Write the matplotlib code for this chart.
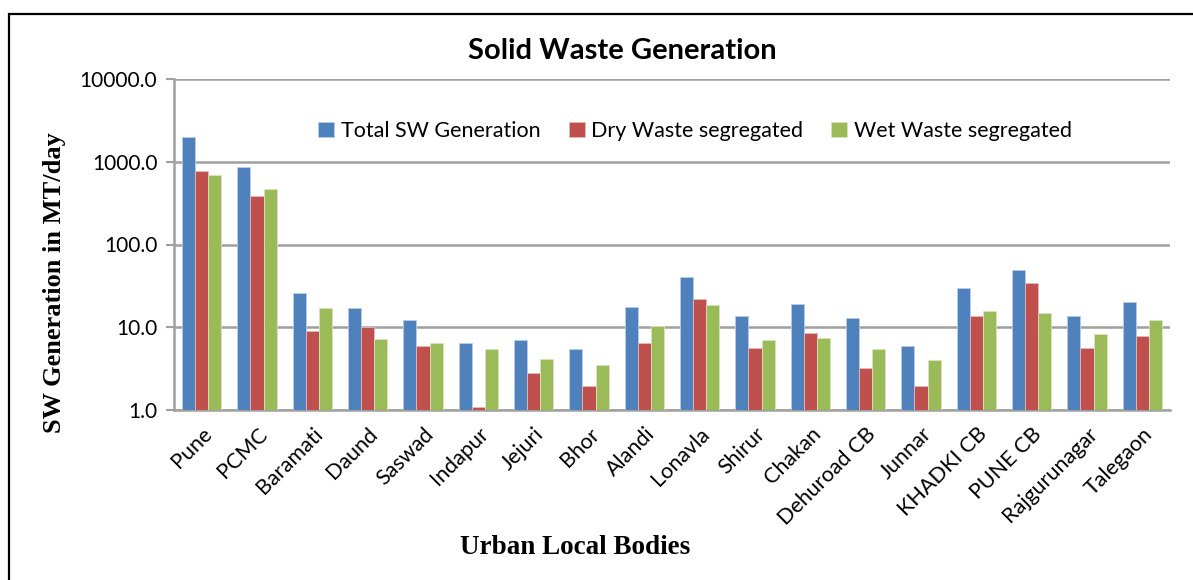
import matplotlib.pyplot as plt
import matplotlib.ticker as mticker
from matplotlib.patches import Rectangle
import numpy as np

bodies = ['Pune', 'PCMC', 'Baramati', 'Daund', 'Saswad', 'Indapur', 'Jejuri', 'Bhor',
          'Alandi', 'Lonavla', 'Shirur', 'Chakan', 'Dehuroad CB', 'Junnar', 'KHADKI CB',
          'PUNE CB', 'Rajgurunagar', 'Talegaon']
total_sw = [1983, 861, 26.2, 16.9, 12.4, 6.5, 7.0, 5.4, 17.7, 40.6, 13.8, 19.3,
            12.8, 5.9, 29.6, 49.3, 13.8, 20.1]
dry_waste = [770, 387, 8.9, 10.0, 5.9, 1.09, 2.78, 1.97, 6.5, 21.8, 5.6, 8.5,
             3.25, 1.97, 13.8, 34.6, 5.6, 7.9]
wet_waste = [689, 474, 17.3, 7.2, 6.5, 5.4, 4.1, 3.5, 10.4, 18.8, 7.0, 7.4,
             5.4, 4.0, 15.7, 14.8, 8.3, 12.2]
series_names = ['Total SW Generation', 'Dry Waste segregated', 'Wet Waste segregated']
y_ticks = [1, 10, 100, 1000, 10000]

colors = ['#4F81BD', '#C0504D', '#9BBB59']
edges = ['#B9CDE5', '#E6B9B8', '#D7E4BD']
sans = 'Lato'

fig = plt.figure(figsize=(11.93, 5.80), dpi=100)
ax = fig.add_axes([174/1193, 1-410/580, (1170-174)/1193, (410-79)/580])

x = np.arange(len(bodies))
w = 0.235
for i, vals in enumerate([total_sw, dry_waste, wet_waste]):
    ax.bar(x + (i-1)*w, vals, w, color=colors[i], edgecolor=edges[i], linewidth=0.6,
           label=series_names[i], zorder=3)

ax.set_yscale('log')
ax.set_ylim(1, 10000)
ax.set_xlim(-0.5, len(bodies)-0.5)
ax.yaxis.set_major_locator(mticker.FixedLocator(y_ticks))
ax.yaxis.set_minor_locator(mticker.NullLocator())
ax.yaxis.set_major_formatter(mticker.FuncFormatter(lambda v, p: f'{v:.1f}'))
ax.grid(axis='y', color='#A0A0A0', linewidth=1.8, zorder=0)
ax.set_xticks(x)
ax.set_xticklabels(bodies, rotation=45, ha='right', rotation_mode='anchor',
                   fontsize=15.5, family=sans)
for lab in ax.get_yticklabels():
    lab.set_fontsize(15)
    lab.set_family(sans)
ax.tick_params(axis='x', length=0, pad=10)
ax.tick_params(axis='y', length=6, width=1.5, color='#A0A0A0', pad=6)
for s in ['top', 'right']:
    ax.spines[s].set_visible(False)
for s in ['left', 'bottom']:
    ax.spines[s].set_color('#A0A0A0')
    ax.spines[s].set_linewidth(1.8)

fig.text(622/1193, 1-51/580, 'Solid Waste Generation', ha='center', va='center',
         fontsize=21, fontweight='bold', family=sans)
fig.text(55/1193, 1-283/580, 'SW Generation in MT/day', rotation=90, ha='center',
         va='center', fontsize=19, fontweight='bold', family='Liberation Serif')
fig.text(575/1193, 1-548/580, 'Urban Local Bodies', ha='center', va='center',
         fontsize=19.5, fontweight='bold', family='Liberation Serif')

fig.legend(loc='center', bbox_to_anchor=(695/1193, 1-131/580), ncol=3, frameon=False,
           prop={'family': sans, 'size': 15.5}, handlelength=0.75, handleheight=0.75,
           handletextpad=0.3, columnspacing=1.3)

fig.patches.append(Rectangle((9/1193, -0.05), 1.1, 1-14/580+0.05, transform=fig.transFigure,
                             fill=False, edgecolor='black', linewidth=1.6))

fig.savefig('out.png', dpi=100)
